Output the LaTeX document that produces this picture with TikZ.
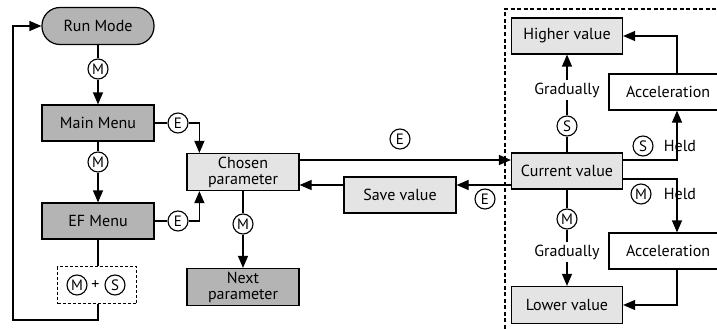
\documentclass[tikz,border=0pt]{standalone}
\usepackage{fontspec}
\setmainfont{PT Sans}
\usetikzlibrary{arrows.meta,positioning}
\definecolor{dark}{HTML}{B4B4B4}
\definecolor{light}{HTML}{E4E4E4}
\tikzset{box/.style={draw,line width=1.2pt,minimum width=112pt,minimum height=36pt,inner sep=0pt,align=center,font=\fontsize{16}{16}\selectfont},
 darkbox/.style={box,fill=dark},lightbox/.style={box,fill=light},
 key/.style={circle,draw,fill=white,line width=1.1pt,minimum size=20pt,inner sep=0pt,font=\fontsize{15}{15}\selectfont},
 lbl/.style={inner sep=2pt,font=\fontsize{16}{16}\selectfont},
 link/.style={draw,line width=1.2pt},flow/.style={link,-{Triangle[length=12pt,width=10pt]}}}
\begin{document}
\begin{tikzpicture}[x=1pt,y=-1pt]
\useasboundingbox (0,0) rectangle (717,329);
\clip (0,0) rectangle (717,329);
% left column
\node[darkbox,rounded corners=18pt,minimum height=37pt] (run) at (98,26) {Run Mode};
\node[key] (m1) at (98,69) {M};
\node[darkbox] (main) at (98,123) {Main Menu};
\node[key] (e1) at (178,123) {E};
\node[key] (m2) at (98,162) {M};
\node[darkbox] (ef) at (98,221) {EF Menu};
\node[key] (e2) at (178,221) {E};
\node[draw,line width=1.1pt,dash pattern=on 3pt off 2pt,minimum width=79pt,minimum height=37pt] (combo) at (97,285) {};
\node[key] (m6) at (77,285) {M};
\node[lbl] (plus) at (95.5,285) {+};
\node[key] (s3) at (115,285) {S};
\coordinate (loop) at (13,320);
% middle column
\node[lightbox,minimum height=37pt] (chosen) at (243,172) {Chosen\\parameter};
\node[key] (m3) at (243,224) {M};
\node[darkbox,minimum height=37pt] (next) at (243,287) {Next\\parameter};
\node[lightbox] (save) at (400,195) {Save value};
\node[key] (e3) at (400,139) {E};
\node[key] (e4) at (485,199) {E};
% value adjustment
\node[lightbox,minimum width=111pt] (higher) at (567,36) {Higher value};
\node[lightbox,minimum width=111pt] (current) at (567,171) {Current value};
\node[lightbox,minimum width=111pt,minimum height=37pt] (lower) at (567,305) {Lower value};
\node[box,minimum width=136pt,text width=120pt,align=left,inner xsep=0pt] (acc1) at (677,92) {\hspace*{9pt}Acceleration};
\node[box,minimum width=136pt,text width=120pt,align=left,inner xsep=0pt] (acc2) at (677,251) {\hspace*{9pt}Acceleration};
\node[key] (s1) at (567,126) {S};
\node[lbl] (grad1) at (567,90) {Gradually};
\node[key] (m5) at (567,219) {M};
\node[lbl] (grad2) at (567,252) {Gradually};
\node[key] (s2) at (643,146) {S};
\node[lbl] (held1) at (680,146) {Held};
\node[key] (m4) at (641,194) {M};
\node[lbl] (held2) at (680,194) {Held};
% connectors
\draw[link] (run) -- (m1); \draw[flow] (m1) -- (main);
\draw[link] (main) -- (m2); \draw[flow] (m2) -- (ef);
\draw[link] (main) -- (e1); \draw[flow] (e1.east) -| ([xshift=13pt]chosen.north west);
\draw[link] (ef) -- (e2); \draw[flow] (e2.east) -| ([xshift=13pt]chosen.south west);
\draw[link] (ef.south) -- (ef.south |- combo.north);
\draw[flow] (ef.south |- combo.south) |- (loop) |- (run.west);
\draw[link] (chosen) -- (m3); \draw[flow] (m3) -- (next);
\draw[flow] ([yshift=12pt]chosen.east) -- ([yshift=12pt]chosen.east -| current.west);
\draw[flow] ([yshift=10pt]save.east -| current.west) -- ([yshift=10pt]save.east);
\draw[flow] ([yshift=10pt]save.west) -- ([yshift=10pt]save.west -| chosen.east);
\draw[link] (current) -- (s1); \draw[link] (s1) -- (grad1); \draw[flow] (grad1) -- (higher);
\draw[link] (current) -- (m5); \draw[link] (m5) -- (grad2); \draw[flow] (grad2) -- (lower);
\draw[flow] ([yshift=11pt]current.east) -| (acc1.south);
\draw[flow] (acc1.north) |- (higher.east);
\draw[flow] ([yshift=-8pt]current.east) -| (acc2.north);
\draw[flow] (acc2.south) |- (lower.east);
% frame
\draw[line width=1.1pt,dash pattern=on 4pt off 2.5pt] (505,335) -- (505,9) -- (725,9);
\end{tikzpicture}
\end{document}
